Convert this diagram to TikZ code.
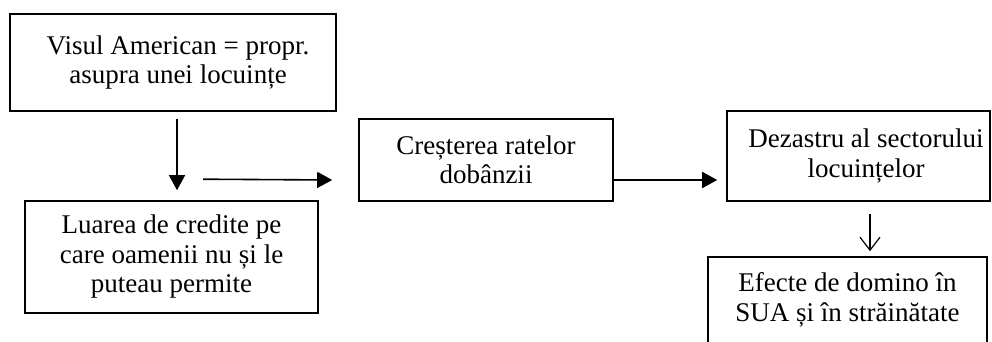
\documentclass[tikz,border=0pt]{standalone}
\usepackage{fontspec}
\setmainfont{Liberation Serif}
\usetikzlibrary{arrows.meta}
\begin{document}
\begin{tikzpicture}[x=1pt,y=-1pt,
  txt/.style={font=\fontsize{27}{29.5}\selectfont, align=center, inner sep=0pt},
  boxnode/.style={txt, draw, line width=1.6pt},
  flow/.style={line width=1.6pt, -{Triangle[length=15pt,width=16pt]}},
  thinflow/.style={line width=1.2pt, -{Straight Barb[length=13pt,width=20pt]}}]
\useasboundingbox (0,0) rectangle (992,342);
\node[boxnode, minimum width=326pt, minimum height=97pt] (b1) at (173,62.5)
  {\hspace*{10pt}Visul American = propr.\\\hspace*{10pt}asupra unei locuințe};
\node[boxnode, minimum width=293pt, minimum height=112pt] (b2) at (171.5,257)
  {Luarea de credite pe\\care oamenii nu și le\\puteau permite};
\node[boxnode, minimum width=254pt, minimum height=82pt] (b3) at (486,160)
  {Creșterea ratelor\\dobânzii};
\node[boxnode, minimum width=263pt, minimum height=90pt] (b4) at (858.5,156)
  {\hspace*{15pt}Dezastru al sectorului\\\hspace*{15pt}locuințelor};
\node[draw, line width=1.6pt, minimum width=279pt, minimum height=106pt, inner sep=0pt] (b5) at (847.5,310) {};
\node[txt] (t5) at (847.5,300) {Efecte de domino în\\SUA și în străinătate};
\draw[flow] ([xshift=4pt,yshift=-7pt]b1.south) -- ([xshift=5.5pt,yshift=10pt]b2.north);
\draw[flow] ([xshift=31.5pt,yshift=21pt]b2.north) -- ([xshift=-26pt,yshift=-20pt]b3.west);
\draw[flow] ([yshift=-20pt]b3.east) -- ([xshift=-9pt,yshift=-24pt]b4.west);
\draw[thinflow] ([xshift=11.5pt,yshift=-12pt]b4.south) -- ([xshift=22.5pt,yshift=5pt]b5.north);
\end{tikzpicture}
\end{document}
